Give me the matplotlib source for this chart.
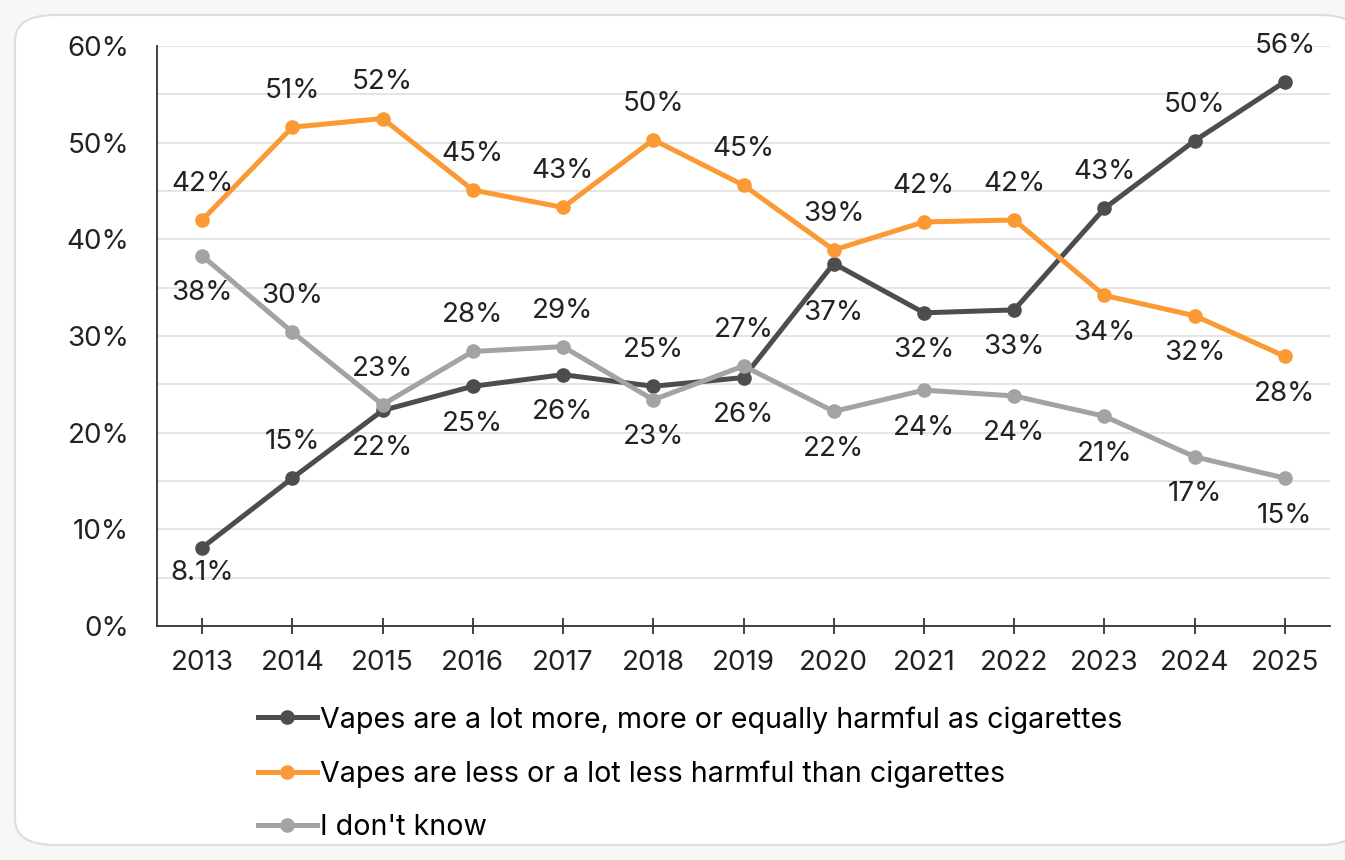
import matplotlib
matplotlib.use("Agg")
import matplotlib.pyplot as plt
from matplotlib.patches import FancyBboxPatch

plt.rcParams['font.family'] = ['Inter', 'DejaVu Sans']

years = [2013, 2014, 2015, 2016, 2017, 2018, 2019, 2020, 2021, 2022, 2023, 2024, 2025]

# share of respondents (%)
more_harmful = [8.1, 15.3, 22.3, 24.8, 26.0, 24.8, 25.7, 37.5, 32.4, 32.7, 43.2, 50.2, 56.3]
less_harmful = [42.0, 51.6, 52.5, 45.1, 43.3, 50.3, 45.6, 38.9, 41.8, 42.0, 34.2, 32.1, 27.9]
dont_know = [38.3, 30.4, 22.9, 28.4, 28.9, 23.4, 26.9, 22.2, 24.4, 23.8, 21.7, 17.5, 15.3]

more_labels = ['8.1%', '15%', '22%', '25%', '26%', '25%', '26%', '37%', '32%', '33%', '43%', '50%', '56%']
less_labels = ['42%', '51%', '52%', '45%', '43%', '50%', '45%', '39%', '42%', '42%', '34%', '32%', '28%']
dk_labels = ['38%', '30%', '23%', '28%', '29%', '23%', '27%', '22%', '24%', '24%', '21%', '17%', '15%']

# label side: 1 above the point, -1 below
more_side = [-1, 1, -1, -1, -1, 1, -1, -1, -1, -1, 1, 1, 1]
less_side = [1, 1, 1, 1, 1, 1, 1, 1, 1, 1, -1, -1, -1]
dk_side = [-1, 1, 1, 1, 1, -1, 1, -1, -1, -1, -1, -1, -1]

names = ['Vapes are a lot more, more or equally harmful as cigarettes',
         'Vapes are less or a lot less harmful than cigarettes',
         "I don't know"]
colors = ['#4d4d4d', '#fb9a35', '#a3a3a3']

fig = plt.figure(figsize=(13.45, 8.6), dpi=100)
fig.patches.append(FancyBboxPatch((15 / 1345, 15 / 860), 1.0, 1 - 30 / 860,
                                  boxstyle="round,pad=0,rounding_size=0.03",
                                  transform=fig.transFigure, facecolor='white',
                                  edgecolor='#dddddd', linewidth=1.5, zorder=-1))
ax = fig.add_axes([157 / 1345, 234 / 860, 1173 / 1345, 580 / 860])
ax.set_facecolor('none')

series = [(more_harmful, more_labels, more_side),
          (less_harmful, less_labels, less_side),
          (dont_know, dk_labels, dk_side)]
for (vals, labs, side), name, c in zip(series, names, colors):
    ax.plot(years, vals, color=c, lw=3.6, marker='o', ms=9.5, label=name,
            solid_joinstyle='round', zorder=3)
    for x, v, lab, s in zip(years, vals, labs, side):
        off = 26 if s > 0 else -27
        if lab == '8.1%':
            off = -18
        if x == 2020 and lab == '37%':
            off = -36
        ax.annotate(lab, (x, v), xytext=(0, off), textcoords='offset points',
                    ha='center', va='center', fontsize=20, color='#222222', zorder=4)

ax.set_xlim(2012.5, 2025.5)
ax.set_ylim(0, 60)
ax.set_xticks(years)
ax.set_yticks(range(0, 61, 10))
ax.set_yticklabels([f'{v}%' for v in range(0, 61, 10)])
ax.set_yticks(range(5, 60, 10), minor=True)
ax.grid(axis='y', which='both', color='#e3e3e3', lw=1.3, zorder=0)
for s in ['top', 'right']:
    ax.spines[s].set_visible(False)
ax.spines['left'].set_color('#333333')
ax.spines['bottom'].set_color('#333333')
ax.spines['left'].set_linewidth(1.3)
ax.spines['bottom'].set_linewidth(1.3)
ax.tick_params(axis='x', direction='inout', length=12, width=1.3, color='#333333',
               labelsize=20, pad=11, labelcolor='#222222')
ax.tick_params(axis='y', which='both', length=0, labelsize=20, pad=20, labelcolor='#222222')

fig.legend(loc='upper left', bbox_to_anchor=(258 / 1345, 1 - 706 / 860), frameon=False,
           fontsize=20.6, handlelength=2.05, handletextpad=0.1, labelspacing=0.93,
           borderpad=0, borderaxespad=0)

fig.savefig('out.png', dpi=100, facecolor='#f7f7f7')
